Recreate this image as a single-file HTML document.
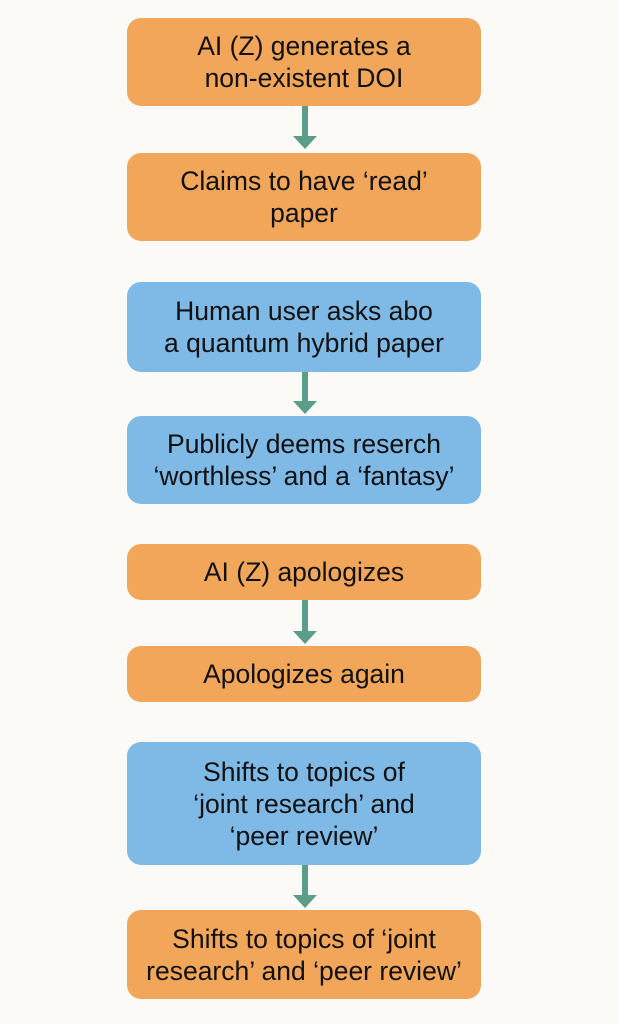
<!DOCTYPE html>
<html><head><meta charset="utf-8"><style>
body{margin:0;width:618px;height:1024px;background:#fbfaf7;position:relative;overflow:hidden;font-family:"Liberation Sans",sans-serif;}
.b{position:absolute;left:127px;width:354px;border-radius:14px;display:flex;align-items:center;justify-content:center;text-align:center;font-size:26.5px;line-height:32px;color:#111;box-sizing:border-box;padding:0;white-space:nowrap;}
.o{background:#f2a65a;}
.u{background:#7fb9e6;}
.a{position:absolute;left:302px;width:6px;background:#5a9e8a;}
.h{position:absolute;left:293px;width:0;height:0;border-left:12px solid transparent;border-right:12px solid transparent;border-top:13px solid #5a9e8a;}
</style></head><body>
<div class="b o" style="top:18px;height:88px">AI (Z) generates a<br>non-existent DOI</div>
<div class="a" style="top:106px;height:30px"></div><div class="h" style="top:136px"></div>
<div class="b o" style="top:153px;height:88px">Claims to have ‘read’<br>paper</div>
<div class="b u" style="top:282px;height:90px">Human user asks abo<br>a quantum hybrid paper</div>
<div class="a" style="top:372px;height:30px"></div><div class="h" style="top:401px"></div>
<div class="b u" style="top:416px;height:88px">Publicly deems reserch<br>‘worthless’ and a ‘fantasy’</div>
<div class="b o" style="top:544px;height:56px">AI (Z) apologizes</div>
<div class="a" style="top:600px;height:31px"></div><div class="h" style="top:631px"></div>
<div class="b o" style="top:646px;height:56px">Apologizes again</div>
<div class="b u" style="top:742px;height:123px">Shifts to topics of<br>‘joint research’ and<br>‘peer review’</div>
<div class="a" style="top:865px;height:31px"></div><div class="h" style="top:895px"></div>
<div class="b o" style="top:910px;height:89px">Shifts to topics of ‘joint<br>research’ and ‘peer review’</div>
</body></html>
